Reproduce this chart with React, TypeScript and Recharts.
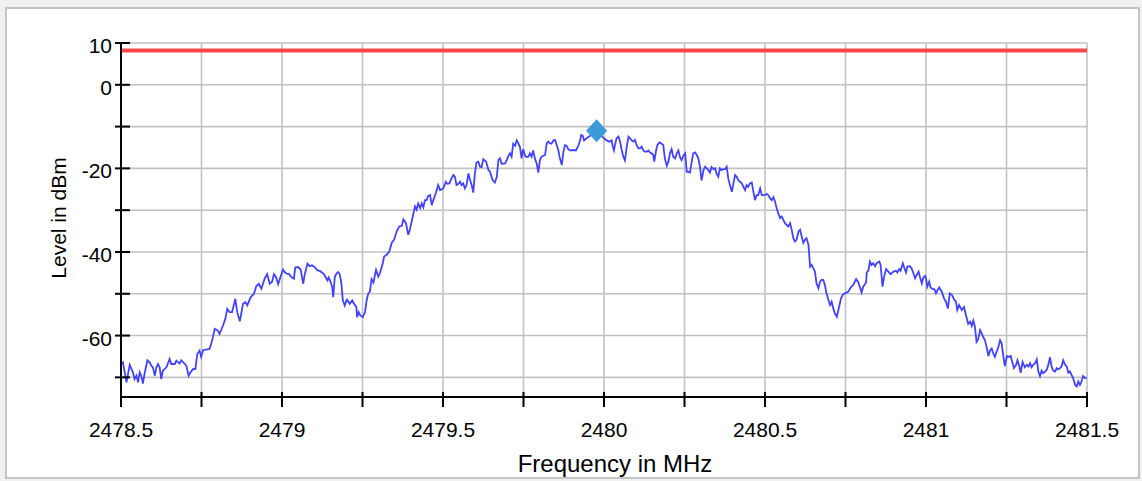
import { ComposedChart, Line, Scatter, XAxis, YAxis, CartesianGrid, ReferenceLine } from 'recharts';

// spectrum trace, [frequency MHz, level dBm] in four pieces
const traceLowerBand: [number, number][] = [
  [2478.501, -66.8], [2478.506, -66.4], [2478.517, -71.2], [2478.527, -67.0], [2478.537, -68.8], [2478.542, -70.4],
  [2478.548, -69.6], [2478.553, -71.2], [2478.558, -68.8], [2478.563, -69.6], [2478.568, -71.5], [2478.573, -69.2],
  [2478.582, -65.9], [2478.589, -66.4], [2478.594, -67.2], [2478.599, -67.6], [2478.605, -69.6], [2478.61, -67.6],
  [2478.615, -66.8], [2478.62, -67.6], [2478.625, -70.4], [2478.63, -68.4], [2478.641, -67.6], [2478.651, -65.6],
  [2478.656, -66.8], [2478.667, -66.8], [2478.672, -66.0], [2478.682, -66.7], [2478.687, -65.9], [2478.698, -66.8],
  [2478.703, -67.2], [2478.71, -69.6], [2478.716, -68.8], [2478.724, -68.0], [2478.731, -68.0], [2478.737, -64.4],
  [2478.744, -63.6], [2478.749, -65.1], [2478.755, -63.5], [2478.775, -63.2], [2478.783, -61.2], [2478.791, -58.4],
  [2478.801, -58.8], [2478.806, -59.6], [2478.817, -57.6], [2478.824, -56.0], [2478.83, -53.6], [2478.837, -54.4],
  [2478.845, -54.4], [2478.855, -51.2], [2478.861, -54.4], [2478.869, -56.6], [2478.879, -52.4], [2478.886, -52.0],
  [2478.892, -52.8], [2478.903, -50.8], [2478.913, -50.0], [2478.92, -48.2], [2478.928, -47.6], [2478.936, -48.8],
  [2478.946, -46.4], [2478.954, -45.3], [2478.962, -47.6], [2478.969, -47.2], [2478.975, -45.3], [2478.982, -46.1],
  [2478.988, -47.7], [2478.996, -45.8], [2479.003, -44.2], [2479.008, -44.8], [2479.017, -45.3], [2479.021, -45.2],
  [2479.029, -46.0], [2479.037, -46.4], [2479.041, -43.7], [2479.05, -43.6], [2479.058, -44.2], [2479.062, -46.0],
  [2479.066, -47.6], [2479.07, -45.6], [2479.079, -42.8], [2479.086, -43.4], [2479.093, -43.2], [2479.101, -43.6],
  [2479.11, -44.4], [2479.117, -44.5], [2479.122, -44.8], [2479.13, -45.3], [2479.135, -46.0], [2479.141, -46.8],
  [2479.145, -46.1], [2479.151, -47.2], [2479.156, -48.4], [2479.159, -50.8], [2479.164, -46.0], [2479.169, -45.2],
  [2479.174, -44.8], [2479.179, -45.3], [2479.184, -47.2], [2479.189, -51.6], [2479.195, -52.8], [2479.2, -51.6],
  [2479.202, -51.4], [2479.21, -52.4], [2479.218, -51.6], [2479.224, -52.4], [2479.231, -53.2], [2479.233, -55.6],
  [2479.238, -54.4], [2479.243, -55.2], [2479.251, -55.6],
];

const traceRising: [number, number][] = [
  [2479.258, -54.3], [2479.263, -51.5], [2479.268, -49.9], [2479.273, -49.5], [2479.278, -46.5], [2479.284, -47.3],
  [2479.292, -44.3], [2479.299, -45.9], [2479.304, -45.1], [2479.313, -42.7], [2479.317, -41.1], [2479.325, -40.7],
  [2479.333, -39.9], [2479.341, -37.8], [2479.348, -37.1], [2479.356, -35.1], [2479.364, -33.9], [2479.372, -33.8],
  [2479.377, -32.2], [2479.385, -33.1], [2479.392, -35.9], [2479.397, -34.7], [2479.406, -31.5], [2479.413, -29.1],
  [2479.418, -29.9], [2479.423, -28.4], [2479.429, -29.5], [2479.434, -28.4], [2479.439, -29.3], [2479.444, -27.6],
  [2479.449, -27.6], [2479.454, -26.6], [2479.46, -26.4], [2479.465, -28.8], [2479.47, -27.6], [2479.478, -25.9],
  [2479.485, -24.0], [2479.491, -25.2], [2479.501, -24.8], [2479.509, -23.2], [2479.513, -23.7], [2479.52, -23.6],
  [2479.524, -22.8], [2479.532, -21.6], [2479.537, -22.0], [2479.542, -24.0], [2479.548, -23.7], [2479.553, -23.2],
  [2479.558, -24.0], [2479.563, -23.6], [2479.568, -24.8], [2479.573, -24.0], [2479.579, -21.2], [2479.584, -22.8],
  [2479.589, -24.0], [2479.594, -25.8], [2479.599, -21.2], [2479.604, -18.6], [2479.61, -18.4], [2479.615, -19.6],
  [2479.62, -19.7], [2479.625, -17.8], [2479.634, -18.4], [2479.641, -20.4], [2479.646, -20.8], [2479.654, -22.8],
  [2479.661, -23.4], [2479.667, -22.1], [2479.672, -18.0], [2479.677, -17.6], [2479.682, -18.9], [2479.693, -18.8],
  [2479.698, -18.0], [2479.703, -17.0], [2479.708, -16.4], [2479.713, -17.2], [2479.718, -14.1], [2479.724, -14.6],
  [2479.729, -13.3], [2479.734, -14.0], [2479.739, -14.9], [2479.744, -17.6], [2479.749, -15.4], [2479.755, -17.0],
  [2479.76, -17.3], [2479.765, -17.2], [2479.77, -16.4], [2479.775, -17.2], [2479.78, -15.7], [2479.786, -17.8],
  [2479.791, -18.8], [2479.796, -21.0], [2479.801, -18.0], [2479.806, -17.2], [2479.817, -16.8], [2479.822, -14.0],
  [2479.827, -13.6], [2479.832, -14.0], [2479.837, -14.1], [2479.843, -13.3], [2479.848, -13.2], [2479.853, -14.4],
  [2479.858, -15.6], [2479.863, -17.6], [2479.869, -19.2], [2479.874, -16.0], [2479.879, -14.4], [2479.884, -14.6],
  [2479.889, -15.4], [2479.894, -15.7], [2479.905, -15.6], [2479.913, -15.7], [2479.92, -14.6], [2479.926, -13.3],
  [2479.929, -12.0], [2479.934, -12.2], [2479.938, -13.3], [2479.946, -12.8], [2479.957, -12.2], [2479.967, -11.8],
  [2479.977, -11.0],
];

const traceFalling: [number, number][] = [
  [2480.0, -12.8], [2480.008, -13.3], [2480.017, -13.6], [2480.024, -13.3], [2480.027, -14.8], [2480.031, -15.7],
  [2480.034, -14.4], [2480.039, -12.8], [2480.045, -12.4], [2480.05, -13.6], [2480.055, -15.6], [2480.06, -17.2],
  [2480.065, -18.1], [2480.07, -15.2], [2480.076, -12.4], [2480.081, -12.8], [2480.086, -13.3], [2480.091, -13.6],
  [2480.096, -13.2], [2480.101, -14.4], [2480.107, -15.2], [2480.112, -15.2], [2480.117, -14.8], [2480.122, -15.7],
  [2480.127, -16.0], [2480.133, -16.0], [2480.138, -15.7], [2480.143, -16.2], [2480.148, -16.4], [2480.153, -16.8],
  [2480.156, -18.4], [2480.162, -15.6], [2480.166, -14.4], [2480.172, -13.8], [2480.179, -14.1], [2480.184, -14.4],
  [2480.189, -17.6], [2480.195, -19.4], [2480.2, -18.4], [2480.205, -16.4], [2480.21, -15.4], [2480.215, -17.2],
  [2480.221, -17.6], [2480.226, -16.4], [2480.231, -15.7], [2480.236, -17.3], [2480.241, -18.0], [2480.246, -17.0],
  [2480.252, -16.4], [2480.257, -20.8], [2480.262, -20.8], [2480.267, -21.0], [2480.272, -18.6], [2480.277, -16.4],
  [2480.283, -16.2], [2480.288, -16.8], [2480.293, -17.6], [2480.298, -19.6], [2480.303, -22.9], [2480.309, -20.4],
  [2480.314, -19.6], [2480.319, -20.0], [2480.324, -20.4], [2480.329, -21.0], [2480.334, -19.7], [2480.34, -20.2],
  [2480.345, -20.0], [2480.35, -21.3], [2480.355, -22.0], [2480.36, -20.0], [2480.365, -20.4], [2480.371, -20.2],
  [2480.376, -20.2], [2480.381, -19.6], [2480.386, -22.4], [2480.391, -24.0], [2480.397, -25.6], [2480.402, -23.6],
  [2480.407, -21.6], [2480.412, -22.0], [2480.417, -22.8], [2480.422, -23.2], [2480.428, -23.6], [2480.433, -24.4],
  [2480.438, -25.2], [2480.443, -24.0], [2480.448, -24.4], [2480.453, -23.6], [2480.459, -23.4], [2480.464, -25.6],
  [2480.469, -27.6], [2480.474, -26.4], [2480.479, -26.4], [2480.485, -24.8], [2480.49, -26.4], [2480.495, -26.4],
  [2480.5, -26.4], [2480.505, -26.1], [2480.51, -26.4], [2480.516, -27.2], [2480.521, -27.6], [2480.526, -26.9],
  [2480.531, -27.9], [2480.536, -29.5], [2480.541, -30.7], [2480.547, -31.9], [2480.552, -31.5], [2480.557, -32.3],
  [2480.562, -33.1], [2480.567, -33.5], [2480.572, -33.9], [2480.578, -33.1], [2480.583, -34.7], [2480.588, -36.7],
  [2480.593, -37.5], [2480.598, -37.1], [2480.604, -35.1], [2480.609, -34.7], [2480.614, -36.3], [2480.619, -37.8],
  [2480.624, -37.1], [2480.629, -36.7], [2480.635, -38.3], [2480.64, -43.5], [2480.645, -43.1], [2480.65, -43.9],
  [2480.655, -44.7], [2480.66, -47.5], [2480.666, -48.7], [2480.671, -47.1], [2480.676, -46.7], [2480.681, -46.7],
  [2480.686, -47.9], [2480.691, -49.9], [2480.697, -51.5], [2480.702, -52.7], [2480.707, -51.9], [2480.712, -53.5],
  [2480.717, -54.7], [2480.723, -55.5], [2480.728, -53.9],
];

const traceUpperBand: [number, number][] = [
  [2480.736, -51.1], [2480.741, -50.3], [2480.748, -49.9], [2480.759, -49.5], [2480.766, -48.5], [2480.774, -47.9],
  [2480.783, -46.5], [2480.79, -47.3], [2480.795, -48.5], [2480.8, -49.7], [2480.805, -48.3], [2480.814, -47.3],
  [2480.816, -44.9], [2480.821, -44.5], [2480.826, -42.3], [2480.831, -43.1], [2480.836, -42.7], [2480.842, -43.4],
  [2480.847, -42.6], [2480.855, -42.3], [2480.859, -43.1], [2480.865, -48.3], [2480.87, -45.9], [2480.876, -44.1],
  [2480.883, -44.7], [2480.89, -45.3], [2480.899, -44.7], [2480.907, -44.5], [2480.911, -44.9], [2480.917, -44.1],
  [2480.921, -44.5], [2480.928, -42.7], [2480.933, -43.9], [2480.938, -44.9], [2480.942, -43.5], [2480.95, -43.4],
  [2480.955, -43.9], [2480.961, -45.1], [2480.966, -46.3], [2480.971, -45.5], [2480.977, -44.7], [2480.981, -45.9],
  [2480.987, -47.5], [2480.992, -46.1], [2480.997, -45.7], [2481.0, -46.3], [2481.004, -48.3], [2481.01, -47.1],
  [2481.014, -48.5], [2481.021, -48.9], [2481.026, -48.9], [2481.031, -49.9], [2481.036, -49.1], [2481.041, -48.5],
  [2481.049, -49.5], [2481.056, -51.1], [2481.062, -51.9], [2481.068, -53.5], [2481.074, -49.9], [2481.081, -50.3],
  [2481.087, -51.3], [2481.093, -51.9], [2481.097, -53.9], [2481.103, -52.7], [2481.111, -53.9], [2481.118, -53.2],
  [2481.124, -55.1], [2481.131, -57.2], [2481.137, -56.7], [2481.142, -57.7], [2481.147, -56.4], [2481.152, -57.9],
  [2481.157, -61.5], [2481.162, -60.9], [2481.168, -58.7], [2481.173, -59.5], [2481.178, -60.4], [2481.183, -61.1],
  [2481.188, -62.7], [2481.194, -64.9], [2481.199, -63.5], [2481.204, -63.1], [2481.209, -64.3], [2481.214, -65.1],
  [2481.219, -63.9], [2481.225, -62.7], [2481.23, -61.1], [2481.235, -61.9], [2481.24, -64.9], [2481.245, -67.3],
  [2481.251, -64.9], [2481.256, -65.1], [2481.263, -64.9], [2481.269, -66.6], [2481.273, -67.8], [2481.28, -67.0],
  [2481.284, -65.9], [2481.29, -67.4], [2481.294, -68.9], [2481.3, -66.3], [2481.307, -67.6], [2481.313, -67.0],
  [2481.318, -67.4], [2481.323, -66.6], [2481.328, -67.6], [2481.333, -67.0], [2481.339, -66.6], [2481.344, -65.7],
  [2481.349, -68.6], [2481.354, -69.7], [2481.359, -68.4], [2481.364, -69.0], [2481.37, -68.6], [2481.375, -68.2],
  [2481.38, -67.0], [2481.385, -65.2], [2481.39, -67.4], [2481.395, -68.4], [2481.401, -68.6], [2481.406, -67.8],
  [2481.411, -68.1], [2481.416, -67.8], [2481.421, -67.4], [2481.426, -65.9], [2481.432, -67.0], [2481.437, -67.4],
  [2481.442, -68.9], [2481.447, -68.6], [2481.452, -69.4], [2481.457, -70.2], [2481.463, -71.8], [2481.468, -72.2],
  [2481.473, -71.0], [2481.478, -71.8], [2481.483, -71.0], [2481.488, -69.7], [2481.494, -70.2], [2481.499, -70.2],
];

const peakMarker = [{ freq: 2479.977, level: -11.0 }];
const limitLevel = 8.2;

const freqTicks = [
  2478.5, 2478.75, 2479, 2479.25, 2479.5, 2479.75, 2480, 2480.25, 2480.5, 2480.75, 2481, 2481.25, 2481.5,
];
const levelTicks = [10, 0, -10, -20, -30, -40, -50, -60, -70];
const levelLabels = [10, 0, -20, -40, -60];

const FONT = '"Liberation Sans", Arial, sans-serif';

const trace = [...traceLowerBand, ...traceRising, ...traceFalling, ...traceUpperBand].map(([freq, level]) => ({
  freq,
  level,
}));

const FreqTick = ({ x, y, payload }: any) => {
  const v = payload.value;
  const labelled = Math.abs(v * 2 - Math.round(v * 2)) < 1e-6;
  return (
    <g>
      <line x1={x} x2={x} y1={y - 5} y2={y + 10} stroke="#000" strokeWidth={2} />
      {labelled && (
        <text x={x} y={y + 40} textAnchor="middle" fontSize={21} fill="#000" fontFamily={FONT}>
          {String(v)}
        </text>
      )}
    </g>
  );
};

const LevelTick = ({ x, y, payload }: any) => {
  const v = payload.value;
  return (
    <g>
      <line x1={x - 6} x2={x + 9} y1={y} y2={y} stroke="#000" strokeWidth={2} />
      {levelLabels.includes(v) && (
        <text x={x - 9} y={y + 10} textAnchor="end" fontSize={21} fill="#000" fontFamily={FONT}>
          {String(v)}
        </text>
      )}
    </g>
  );
};

const Diamond = ({ cx, cy }: any) => (
  <polygon
    points={`${cx},${cy - 11.5} ${cx + 10.5},${cy} ${cx},${cy + 11.5} ${cx - 10.5},${cy}`}
    fill="#3d9ad9"
  />
);

const XTitle = ({ viewBox }: any) => (
  <text
    x={viewBox.x + viewBox.width / 2 + 11}
    y={viewBox.y + 75}
    textAnchor="middle"
    fontSize={24}
    fill="#000"
    fontFamily={FONT}
  >
    Frequency in MHz
  </text>
);

const YTitle = ({ viewBox }: any) => {
  const cx = viewBox.x + 51;
  const cy = viewBox.y + viewBox.height / 2 - 2;
  return (
    <text
      x={cx}
      y={cy}
      transform={`rotate(-90 ${cx} ${cy})`}
      textAnchor="middle"
      dominantBaseline="central"
      fontSize={21}
      fill="#000"
      fontFamily={FONT}
    >
      Level in dBm
    </text>
  );
};

export default function App() {
  return (
    <div style={{ position: 'absolute', left: 0, top: 0, width: 1142, height: 481, background: '#f0f0f0' }}>
      <div
        style={{
          position: 'absolute',
          left: 5,
          top: 7,
          width: 1131,
          height: 468,
          border: '2px solid #c4c4c4',
          background: '#fff',
        }}
      >
        <ComposedChart width={1131} height={468} margin={{ top: 34, right: 51, bottom: 20, left: 0 }}>
          <CartesianGrid stroke="#c2c2c2" strokeWidth={1.6} />
          <XAxis
            dataKey="freq"
            type="number"
            domain={[2478.5, 2481.5]}
            ticks={freqTicks}
            interval={0}
            allowDataOverflow
            height={60}
            tickSize={0}
            tickMargin={0}
            tickLine={false}
            tick={<FreqTick />}
            axisLine={{ stroke: '#000', strokeWidth: 2 }}
            label={<XTitle />}
          />
          <YAxis
            dataKey="level"
            type="number"
            domain={[-74.7, 10]}
            ticks={levelTicks}
            interval={0}
            allowDataOverflow
            width={114}
            tickSize={0}
            tickMargin={0}
            tickLine={false}
            tick={<LevelTick />}
            axisLine={{ stroke: '#000', strokeWidth: 2 }}
            label={<YTitle />}
          />
          <ReferenceLine y={limitLevel} stroke="#ff4646" strokeWidth={4} />
          <Line
            data={trace}
            dataKey="level"
            type="linear"
            stroke="#4343ff"
            strokeWidth={1.8}
            dot={false}
            isAnimationActive={false}
          />
          <Scatter data={peakMarker} dataKey="level" shape={<Diamond />} isAnimationActive={false} />
        </ComposedChart>
      </div>
    </div>
  );
}
